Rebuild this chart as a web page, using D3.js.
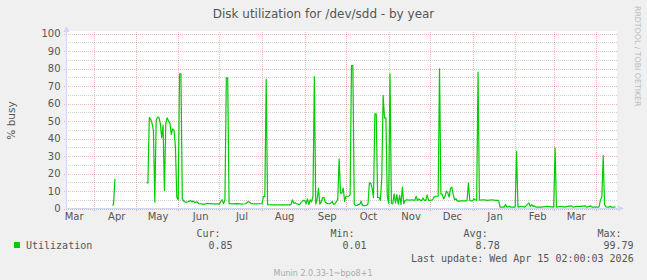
<!DOCTYPE html>
<html lang="en">
<head>
  <meta charset="UTF-8">
  <title>Disk utilization for /dev/sdd - by year</title>
  <script src="https://d3js.org/d3.v7.min.js"></script>
  <style>
    body { margin: 0; background: #f0f0f0; }
    svg { display: block; }
    text { font-family: "DejaVu Sans", sans-serif; fill: #555; }
    .mono { font-family: "DejaVu Sans Mono", monospace; font-size: 10px; }
  </style>
</head>
<body>
<svg id="chart" width="647" height="280"></svg>
<script>
  // daily average % busy
  const utilization = [
    ["2025-04-14", 2.0], ["2025-04-15", 2.1], ["2025-04-16", 17.0], ["2025-04-17", null],
    ["2025-05-09", 14.7], ["2025-05-10", 14.7], ["2025-05-11", 52.0], ["2025-05-12", 51.0],
    ["2025-05-13", 48.8], ["2025-05-14", 44.6], ["2025-05-15", 3.6], ["2025-05-16", 50.4],
    ["2025-05-17", 52.3], ["2025-05-18", 52.0], ["2025-05-19", 48.6], ["2025-05-20", 40.4],
    ["2025-05-21", 47.6], ["2025-05-22", 10.3], ["2025-05-23", 48.8], ["2025-05-24", 51.8],
    ["2025-05-25", 49.9], ["2025-05-26", 48.8], ["2025-05-27", 42.3], ["2025-05-28", 45.5],
    ["2025-05-29", 44.6], ["2025-05-30", 35.0], ["2025-05-31", 6.5], ["2025-06-01", 5.0],
    ["2025-06-02", 77.0], ["2025-06-03", 77.0], ["2025-06-04", 5.5], ["2025-06-05", 4.2],
    ["2025-06-06", 3.8], ["2025-06-07", 3.6], ["2025-06-08", 3.8], ["2025-06-09", 4.2],
    ["2025-06-10", 4.6], ["2025-06-11", 3.8], ["2025-06-12", 4.2], ["2025-06-13", 3.4],
    ["2025-06-14", 3.6], ["2025-06-15", 3.6], ["2025-06-16", 2.7], ["2025-06-18", 2.6],
    ["2025-06-20", 2.4], ["2025-06-22", 2.9], ["2025-06-24", 2.8], ["2025-06-26", 2.6],
    ["2025-06-28", 2.7], ["2025-06-30", 2.7], ["2025-07-01", 2.5], ["2025-07-02", 4.0],
    ["2025-07-03", 5.0], ["2025-07-04", 2.8], ["2025-07-05", 5.0], ["2025-07-06", 74.7],
    ["2025-07-07", 74.7], ["2025-07-08", 2.7], ["2025-07-11", 2.6], ["2025-07-14", 2.8],
    ["2025-07-17", 2.5], ["2025-07-20", 2.7], ["2025-07-22", 4.0], ["2025-07-23", 3.6],
    ["2025-07-24", 2.8], ["2025-07-27", 2.6], ["2025-07-31", 2.7], ["2025-08-01", 2.8],
    ["2025-08-02", 6.9], ["2025-08-03", 6.9], ["2025-08-04", 74.0], ["2025-08-05", 2.2],
    ["2025-08-09", 2.1], ["2025-08-14", 2.1], ["2025-08-18", 2.1], ["2025-08-22", 2.1],
    ["2025-08-23", 5.0], ["2025-08-24", 3.0], ["2025-08-25", 3.3], ["2025-08-26", 2.7],
    ["2025-08-27", 2.5], ["2025-08-28", 2.1], ["2025-08-29", 3.0], ["2025-08-30", 4.0],
    ["2025-08-31", 4.6], ["2025-09-01", 4.6], ["2025-09-02", 2.7], ["2025-09-03", 5.5],
    ["2025-09-04", 2.3], ["2025-09-05", 5.0], ["2025-09-06", 3.8], ["2025-09-07", 7.0],
    ["2025-09-08", 75.4], ["2025-09-09", 2.6], ["2025-09-10", 5.0], ["2025-09-11", 11.6],
    ["2025-09-12", 2.4], ["2025-09-13", 3.8], ["2025-09-14", 6.3], ["2025-09-15", 6.3],
    ["2025-09-16", 3.5], ["2025-09-17", 3.0], ["2025-09-18", 2.8], ["2025-09-19", 2.7],
    ["2025-09-20", 3.2], ["2025-09-21", 4.0], ["2025-09-22", 2.3], ["2025-09-23", 2.7],
    ["2025-09-24", 4.0], ["2025-09-25", 5.0], ["2025-09-26", 28.4], ["2025-09-27", 8.8],
    ["2025-09-28", 8.8], ["2025-09-29", 11.6], ["2025-09-30", 4.0], ["2025-10-01", 7.0],
    ["2025-10-02", 7.0], ["2025-10-03", 7.0], ["2025-10-04", 7.8], ["2025-10-05", 81.7],
    ["2025-10-06", 81.7], ["2025-10-07", 2.7], ["2025-10-08", 1.7], ["2025-10-09", 1.8],
    ["2025-10-10", 2.2], ["2025-10-11", 2.3], ["2025-10-12", 4.2], ["2025-10-13", 1.7],
    ["2025-10-14", 1.7], ["2025-10-15", 1.7], ["2025-10-16", 1.8], ["2025-10-17", 2.7],
    ["2025-10-18", 14.5], ["2025-10-19", 14.5], ["2025-10-20", 11.5], ["2025-10-21", 6.3],
    ["2025-10-22", 54.1], ["2025-10-23", 54.1], ["2025-10-24", 6.3], ["2025-10-25", 6.3],
    ["2025-10-26", 4.6], ["2025-10-27", 17.0], ["2025-10-28", 64.6], ["2025-10-29", 51.8],
    ["2025-10-30", 51.8], ["2025-10-31", 7.0], ["2025-11-01", 3.0], ["2025-11-02", 77.0],
    ["2025-11-03", 3.0], ["2025-11-04", 2.7], ["2025-11-05", 8.4], ["2025-11-06", 3.0],
    ["2025-11-07", 8.0], ["2025-11-08", 2.5], ["2025-11-09", 7.5], ["2025-11-10", 2.3],
    ["2025-11-11", 12.2], ["2025-11-12", 2.7], ["2025-11-13", 4.6], ["2025-11-14", 5.0],
    ["2025-11-16", 4.8], ["2025-11-18", 5.0], ["2025-11-20", 4.6], ["2025-11-21", 6.9],
    ["2025-11-22", 4.6], ["2025-11-23", 5.5], ["2025-11-24", 4.6], ["2025-11-25", 4.6],
    ["2025-11-26", 6.0], ["2025-11-27", 4.6], ["2025-11-28", 4.6], ["2025-11-29", 7.8],
    ["2025-11-30", 4.6], ["2025-12-01", 4.6], ["2025-12-02", 4.8], ["2025-12-03", 5.0],
    ["2025-12-04", 6.5], ["2025-12-05", 7.0], ["2025-12-06", 7.0], ["2025-12-07", 7.0],
    ["2025-12-08", 79.8], ["2025-12-09", 8.4], ["2025-12-10", 8.0], ["2025-12-11", 5.5],
    ["2025-12-12", 7.0], ["2025-12-13", 10.0], ["2025-12-14", 9.0], ["2025-12-15", 6.5],
    ["2025-12-16", 11.6], ["2025-12-17", 12.2], ["2025-12-18", 7.8], ["2025-12-19", 5.0],
    ["2025-12-20", 5.5], ["2025-12-21", 4.2], ["2025-12-24", 4.4], ["2025-12-27", 4.4],
    ["2025-12-28", 4.6], ["2025-12-29", 14.5], ["2025-12-30", 4.6], ["2025-12-31", 4.4],
    ["2026-01-01", 4.4], ["2026-01-02", 5.5], ["2026-01-03", 5.0], ["2026-01-04", 4.6],
    ["2026-01-05", 77.9], ["2026-01-06", 4.8], ["2026-01-09", 5.0], ["2026-01-12", 4.6],
    ["2026-01-15", 5.0], ["2026-01-18", 4.6], ["2026-01-20", 4.6], ["2026-01-21", 0.8],
    ["2026-01-24", 0.8], ["2026-01-25", 2.3], ["2026-01-26", 0.8], ["2026-01-28", 1.2],
    ["2026-01-29", 0.8], ["2026-02-01", 0.8], ["2026-02-02", 32.6], ["2026-02-03", 0.8],
    ["2026-02-06", 1.2], ["2026-02-08", 0.8], ["2026-02-11", 3.2], ["2026-02-12", 1.2],
    ["2026-02-13", 2.2], ["2026-02-14", 1.2], ["2026-02-15", 1.5], ["2026-02-16", 0.8],
    ["2026-02-20", 0.8], ["2026-02-24", 1.2], ["2026-03-01", 0.8], ["2026-03-02", 34.7],
    ["2026-03-03", 0.8], ["2026-03-06", 1.2], ["2026-03-09", 0.8], ["2026-03-11", 1.2],
    ["2026-03-14", 1.5], ["2026-03-15", 0.8], ["2026-03-18", 1.2], ["2026-03-21", 1.2],
    ["2026-03-24", 1.5], ["2026-03-25", 0.8], ["2026-03-28", 1.5], ["2026-03-29", 0.8],
    ["2026-04-02", 0.8], ["2026-04-03", 0.9], ["2026-04-04", 5.0], ["2026-04-05", 6.3],
    ["2026-04-06", 30.3], ["2026-04-07", 2.0], ["2026-04-08", 0.9], ["2026-04-10", 0.8],
    ["2026-04-11", 1.2], ["2026-04-12", 0.8], ["2026-04-14", 0.8], ["2026-04-15", 0.85]
  ];

  const yTicks = [0, 10, 20, 30, 40, 50, 60, 70, 80, 90, 100];
  const yMinorTicks = [5, 15, 25, 35, 45, 55, 65, 75, 85, 95];

  // month boundaries (red grid) and month names (label sits mid-month)
  const monthStarts = ["2025-04-01", "2025-05-01", "2025-06-01", "2025-07-01", "2025-08-01",
    "2025-09-01", "2025-10-01", "2025-11-01", "2025-12-01", "2026-01-01", "2026-02-01",
    "2026-03-01", "2026-04-01"];
  const monthLabels = [["2025-03-17", "Mar"], ["2025-04-17", "Apr"], ["2025-05-17", "May"],
    ["2025-06-17", "Jun"], ["2025-07-17", "Jul"], ["2025-08-17", "Aug"], ["2025-09-17", "Sep"],
    ["2025-10-17", "Oct"], ["2025-11-17", "Nov"], ["2025-12-17", "Dec"], ["2026-01-17", "Jan"],
    ["2026-02-17", "Feb"], ["2026-03-17", "Mar"]];

  const legendStats = [
    { label: "Cur:", value: "0.85", col: 196.4 },
    { label: "Min:", value: "0.01", col: 330.4 },
    { label: "Avg:", value: "8.78", col: 463.6 },
    { label: "Max:", value: "99.79", col: 597.4 }
  ];

  const graphEnd = new Date(Date.UTC(2026, 3, 15, 2, 0, 3));
  const graphStart = d3.utcDay.offset(graphEnd, -400);

  const parse = d3.utcParse("%Y-%m-%d");
  const svg = d3.select("#chart");

  const plotL = 66, plotR = 617, plotT = 31, plotB = 208.5;

  const x = d3.scaleUtc().domain([graphStart, graphEnd]).range([65.5, 615.7]);
  const y = d3.scaleLinear().domain([0, 100]).range([plotB, 33.5]);

  // canvas
  svg.append("rect")
    .attr("x", plotL).attr("y", plotT)
    .attr("width", plotR - plotL).attr("height", plotB - plotT)
    .attr("fill", "#fff");

  // minor horizontal grid
  svg.append("g")
    .attr("transform", `translate(${plotL},0)`)
    .attr("color", "rgba(150,150,150,0.45)")
    .call(d3.axisLeft(y).tickValues(yMinorTicks).tickSize(-(plotR - plotL)).tickFormat(""))
    .call(g => g.select(".domain").remove())
    .selectAll("line").attr("stroke-dasharray", "1,1").attr("shape-rendering", "crispEdges");

  // major horizontal grid
  svg.append("g")
    .attr("transform", `translate(${plotL - 2},0)`)
    .attr("color", "rgba(225,80,80,0.4)")
    .call(d3.axisLeft(y).tickValues(yTicks).tickSize(-(plotR - plotL + 2)).tickFormat(""))
    .call(g => g.select(".domain").remove())
    .selectAll("line").attr("stroke-dasharray", "1,1").attr("shape-rendering", "crispEdges");

  // month grid
  svg.append("g")
    .attr("transform", `translate(0,${plotB + 2})`)
    .attr("color", "rgba(225,80,80,0.4)")
    .call(d3.axisBottom(x).tickValues(monthStarts.map(parse)).tickSize(-(plotB + 2 - plotT)).tickFormat(""))
    .call(g => g.select(".domain").remove())
    .selectAll("line").attr("stroke-dasharray", "1,1").attr("shape-rendering", "crispEdges");

  // the data
  const line = d3.line()
    .defined(d => d[1] !== null)
    .x(d => x(parse(d[0])))
    .y(d => y(d[1]));

  svg.append("path")
    .datum(utilization)
    .attr("fill", "none")
    .attr("stroke", "#00cc00")
    .attr("stroke-width", 1.2)
    .attr("stroke-linejoin", "round")
    .attr("d", line);

  // axes with arrows
  const axisCol = "#cfd6f8";
  svg.append("line")
    .attr("x1", plotL + 0.5).attr("x2", plotL + 0.5)
    .attr("y1", plotB + 1).attr("y2", 30)
    .attr("stroke", axisCol);
  svg.append("line")
    .attr("x1", plotL).attr("x2", 619)
    .attr("y1", plotB).attr("y2", plotB)
    .attr("stroke", axisCol);
  svg.append("path")
    .attr("d", `M${plotL + 0.5},26 L${plotL + 3.5},32 L${plotL - 2.5},32 Z`)
    .attr("fill", axisCol);
  svg.append("path")
    .attr("d", `M624,${plotB} L618,${plotB - 3} L618,${plotB + 3} Z`)
    .attr("fill", axisCol);

  // y tick labels
  svg.append("g")
    .attr("transform", `translate(${plotL},0)`)
    .attr("font-family", "DejaVu Sans, sans-serif")
    .attr("font-size", 10)
    .attr("color", "#555")
    .call(d3.axisLeft(y).tickValues(yTicks).tickSize(0).tickPadding(5.5))
    .call(g => g.select(".domain").remove());

  // month labels
  const labelMap = new Map(monthLabels.map(d => [d[0], d[1]]));
  svg.append("g")
    .attr("transform", `translate(0,${plotB})`)
    .attr("font-family", "DejaVu Sans, sans-serif")
    .attr("font-size", 10)
    .attr("color", "#555")
    .call(d3.axisBottom(x)
      .tickValues(monthLabels.map(d => parse(d[0])))
      .tickSize(0).tickPadding(4.2)
      .tickFormat(d => labelMap.get(d3.utcFormat("%Y-%m-%d")(d))))
    .call(g => g.select(".domain").remove());

  // title and side texts
  svg.append("text")
    .attr("x", 323.5).attr("y", 17.5)
    .attr("text-anchor", "middle")
    .attr("font-size", "12px")
    .text("Disk utilization for /dev/sdd - by year");

  svg.append("text")
    .attr("transform", "translate(15,120.5) rotate(-90)")
    .attr("text-anchor", "middle")
    .attr("font-size", "10.5px")
    .text("% busy");

  svg.append("text")
    .attr("transform", "translate(635,6) rotate(90)")
    .attr("font-size", "7.8px")
    .style("fill", "#bbb")
    .text("RRDTOOL / TOBI OETIKER");

  // legend
  svg.append("rect")
    .attr("x", 14).attr("y", 242)
    .attr("width", 6).attr("height", 6)
    .attr("fill", "#00cc00");
  svg.append("text").attr("class", "mono")
    .attr("x", 26).attr("y", 249)
    .text("Utilization");

  legendStats.forEach(s => {
    svg.append("text").attr("class", "mono")
      .attr("x", s.col).attr("y", 236.5)
      .text(s.label);
    svg.append("text").attr("class", "mono")
      .attr("x", s.col + 36.1).attr("y", 249)
      .attr("text-anchor", "end")
      .text(s.value);
  });

  svg.append("text").attr("class", "mono")
    .attr("x", 633.7).attr("y", 261.5)
    .attr("text-anchor", "end")
    .text("Last update: " + d3.utcFormat("%a %b %d %H:%M:%S %Y")(graphEnd));

  svg.append("text")
    .attr("x", 323).attr("y", 276)
    .attr("text-anchor", "middle")
    .attr("font-size", "8px")
    .style("fill", "#aaa")
    .text("Munin 2.0.33-1~bpo8+1");
</script>
</body>
</html>
